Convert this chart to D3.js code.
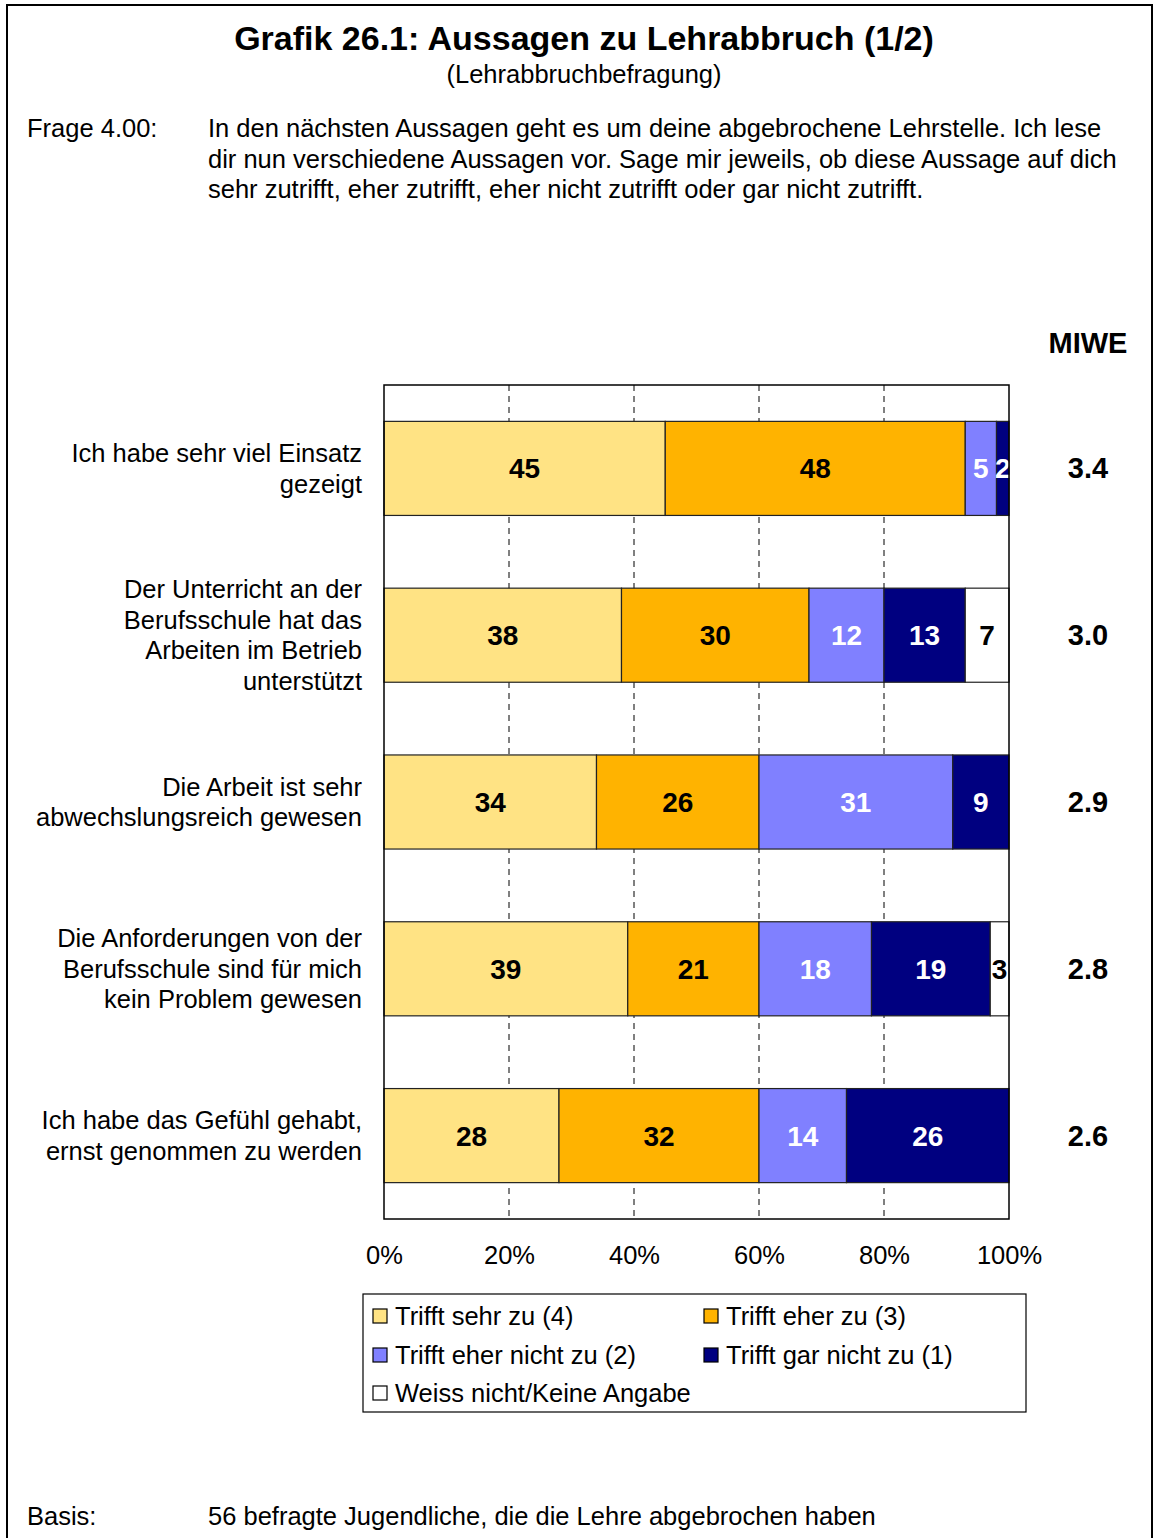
<!DOCTYPE html>
<html>
<head>
<meta charset="utf-8">
<script src="https://cdn.jsdelivr.net/npm/d3@7"></script>
<style>
  body { margin: 0; background: #fff; }
  svg text { font-family: Arial, "Liberation Sans", sans-serif; }
</style>
</head>
<body>
<script>
// data
const categories = [
  ["Ich habe sehr viel Einsatz", "gezeigt"],
  ["Der Unterricht an der", "Berufsschule hat das", "Arbeiten im Betrieb", "unterstützt"],
  ["Die Arbeit ist sehr", "abwechslungsreich gewesen"],
  ["Die Anforderungen von der", "Berufsschule sind für mich", "kein Problem gewesen"],
  ["Ich habe das Gefühl gehabt,", "ernst genommen zu werden"]
];
const seriesNames = ["Trifft sehr zu (4)", "Trifft eher zu (3)", "Trifft eher nicht zu (2)", "Trifft gar nicht zu (1)", "Weiss nicht/Keine Angabe"];
const sehrZu = [45, 38, 34, 39, 28];
const eherZu = [48, 30, 26, 21, 32];
const eherNicht = [5, 12, 31, 18, 14];
const garNicht = [2, 13, 9, 19, 26];
const weissNicht = [0, 7, 0, 3, 0];
const miwe = ["3.4", "3.0", "2.9", "2.8", "2.6"];
const xTicks = [0, 20, 40, 60, 80, 100];

const colors = ["#FFE384", "#FFB300", "#8080FF", "#000080", "#FFFFFF"];
const labelColors = ["#000", "#000", "#fff", "#fff", "#000"];

const W = 1155, H = 1538;
const FS = 25.5;
const svg = d3.select("body").append("svg").attr("width", W).attr("height", H);

// frame
svg.append("path")
  .attr("d", "M7,1538 L7,5 L1152,5 L1152,1538")
  .attr("fill", "none").attr("stroke", "#000").attr("stroke-width", 2);

// title block
svg.append("text").attr("x", 584).attr("y", 50).attr("text-anchor", "middle")
  .attr("font-size", 34).attr("font-weight", "bold").text("Grafik 26.1: Aussagen zu Lehrabbruch (1/2)");
svg.append("text").attr("x", 584).attr("y", 83).attr("text-anchor", "middle")
  .attr("font-size", FS).text("(Lehrabbruchbefragung)");

svg.append("text").attr("x", 27).attr("y", 137).attr("font-size", FS).text("Frage 4.00:");
const frage = [
  "In den nächsten Aussagen geht es um deine abgebrochene Lehrstelle. Ich lese",
  "dir nun verschiedene Aussagen vor. Sage mir jeweils, ob diese Aussage auf dich",
  "sehr zutrifft, eher zutrifft, eher nicht zutrifft oder gar nicht zutrifft."
];
frage.forEach(function(l, i) {
  svg.append("text").attr("x", 208).attr("y", 137 + i * 30.5).attr("font-size", FS).text(l);
});

svg.append("text").attr("x", 27).attr("y", 1525).attr("font-size", FS).text("Basis:");
svg.append("text").attr("x", 208).attr("y", 1525).attr("font-size", FS)
  .text("56 befragte Jugendliche, die die Lehre abgebrochen haben");

// scales
const x = d3.scaleLinear().domain([0, 100]).range([384, 1009]);
const y = d3.scaleBand().domain(d3.range(categories.length)).range([385, 1219])
  .paddingInner(0.436).paddingOuter(0.218);

// plot background + grid
svg.append("rect").attr("x", x(0)).attr("y", 385).attr("width", x(100) - x(0)).attr("height", 1219 - 385)
  .attr("fill", "#fff");
svg.append("g").selectAll("line").data(xTicks.slice(1, -1)).join("line")
  .attr("x1", d => x(d)).attr("x2", d => x(d))
  .attr("y1", 385).attr("y2", 1219)
  .attr("stroke", "#000").attr("stroke-width", 1).attr("stroke-dasharray", "6,5");

// stacked bars
const table = categories.map(function(c, i) {
  return [sehrZu[i], eherZu[i], eherNicht[i], garNicht[i], weissNicht[i]];
});
const stack = d3.stack().keys(d3.range(5))(table);

stack.forEach(function(layer, k) {
  const g = svg.append("g");
  layer.forEach(function(seg, i) {
    const v = seg[1] - seg[0];
    if (v <= 0) return;
    g.append("rect")
      .attr("x", x(seg[0])).attr("y", y(i))
      .attr("width", x(seg[1]) - x(seg[0])).attr("height", y.bandwidth())
      .attr("fill", colors[k]).attr("stroke", "#222").attr("stroke-width", 1.2);
    g.append("text")
      .attr("x", (x(seg[0]) + x(seg[1])) / 2).attr("y", y(i) + y.bandwidth() / 2 + 10)
      .attr("text-anchor", "middle").attr("font-size", 28).attr("font-weight", "bold")
      .attr("fill", labelColors[k]).text(v);
  });
});

// plot border
svg.append("rect").attr("x", x(0)).attr("y", 385).attr("width", x(100) - x(0)).attr("height", 1219 - 385)
  .attr("fill", "none").attr("stroke", "#000").attr("stroke-width", 1.5);

// x axis labels
const xAxis = d3.axisBottom(x).tickValues(xTicks).tickFormat(d => d + "%").tickSize(0).tickPadding(27);
const ax = svg.append("g").attr("transform", "translate(0,1219)").call(xAxis);
ax.select(".domain").remove();
ax.selectAll("text").attr("font-size", FS).attr("font-family", "Arial, 'Liberation Sans', sans-serif").attr("fill", "#000");

// category labels
categories.forEach(function(lines, i) {
  const cy = y(i) + y.bandwidth() / 2;
  const lh = 30.5;
  const t = svg.append("text").attr("text-anchor", "end").attr("font-size", FS);
  lines.forEach(function(l, j) {
    t.append("tspan").attr("x", 362)
      .attr("y", cy + (j - (lines.length - 1) / 2) * lh + 9).text(l);
  });
});

// MIWE
svg.append("text").attr("x", 1088).attr("y", 353).attr("text-anchor", "middle")
  .attr("font-size", 29).attr("font-weight", "bold").text("MIWE");
miwe.forEach(function(m, i) {
  svg.append("text").attr("x", 1088).attr("y", y(i) + y.bandwidth() / 2 + 10)
    .attr("text-anchor", "middle").attr("font-size", 29).attr("font-weight", "bold").text(m);
});

// legend
svg.append("rect").attr("x", 363).attr("y", 1294).attr("width", 663).attr("height", 118)
  .attr("fill", "#fff").attr("stroke", "#000").attr("stroke-width", 1.2);
const legPos = [[373, 1316], [704, 1316], [373, 1355], [704, 1355], [373, 1393]];
seriesNames.forEach(function(n, k) {
  const p = legPos[k];
  svg.append("rect").attr("x", p[0]).attr("y", p[1] - 7).attr("width", 14).attr("height", 14)
    .attr("fill", colors[k]).attr("stroke", "#000").attr("stroke-width", 1.2);
  svg.append("text").attr("x", p[0] + 22).attr("y", p[1] + 9).attr("font-size", FS).text(n);
});
</script>
</body>
</html>
